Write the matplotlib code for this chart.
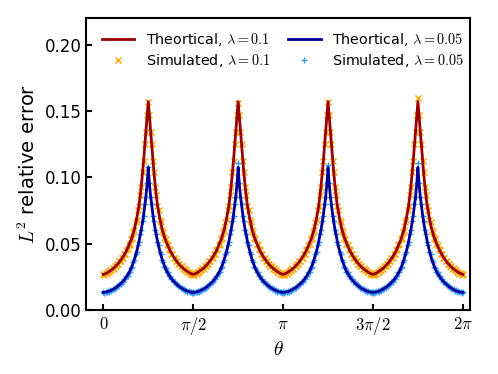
import numpy as np
import matplotlib
matplotlib.use('Agg')
import matplotlib.pyplot as plt

plt.rcParams['mathtext.fontset'] = 'cm'

# distance from a peak (peaks at pi/4, 3pi/4, 5pi/4, 7pi/4), 40 points from 0 to pi/4
n_half = 40
# theoretical error, from peak (d=0) to trough (d=pi/4)
theory_01 = [0.157, 0.146, 0.135, 0.124, 0.113, 0.103, 0.094, 0.086, 0.079, 0.074,
             0.069, 0.065, 0.061, 0.058, 0.055, 0.0527, 0.0505, 0.0485, 0.0465, 0.0445,
             0.0430, 0.0415, 0.0400, 0.0387, 0.0375, 0.0363, 0.0352, 0.0342, 0.0333, 0.0324,
             0.0316, 0.0309, 0.0302, 0.0296, 0.0290, 0.0284, 0.0279, 0.0275, 0.0271, 0.0269]
theory_005 = [0.1075, 0.095, 0.086, 0.079, 0.072, 0.066, 0.061, 0.0565, 0.052, 0.048,
              0.0445, 0.0413, 0.0383, 0.0357, 0.0333, 0.0312, 0.0293, 0.0277, 0.0262, 0.0249,
              0.0237, 0.0226, 0.0216, 0.0207, 0.0198, 0.0190, 0.0183, 0.0176, 0.0170, 0.0164,
              0.0159, 0.0154, 0.0150, 0.0146, 0.0142, 0.0139, 0.0137, 0.0135, 0.0134, 0.0133]
# simulated points (same grid), peak value of each of the four peaks
sim_01 = [0.157, 0.147, 0.134, 0.125, 0.112, 0.104, 0.093, 0.087, 0.078, 0.075,
          0.068, 0.066, 0.060, 0.059, 0.054, 0.0535, 0.0498, 0.0491, 0.0459, 0.0450,
          0.0425, 0.0420, 0.0395, 0.0391, 0.0371, 0.0367, 0.0348, 0.0346, 0.0329, 0.0328,
          0.0312, 0.0313, 0.0298, 0.0300, 0.0286, 0.0288, 0.0275, 0.0279, 0.0267, 0.0272]
sim_005 = [0.1075, 0.096, 0.085, 0.080, 0.071, 0.067, 0.0603, 0.0572, 0.0513, 0.0488,
           0.0439, 0.0420, 0.0377, 0.0363, 0.0327, 0.0318, 0.0287, 0.0283, 0.0256, 0.0255,
           0.0232, 0.0231, 0.0211, 0.0212, 0.0194, 0.0195, 0.0179, 0.0180, 0.0166, 0.0168,
           0.0156, 0.0157, 0.0147, 0.0149, 0.0139, 0.0142, 0.0134, 0.0137, 0.0131, 0.0135]
sim_peaks_01 = [0.157, 0.156, 0.157, 0.160]
sim_peaks_005 = [0.108, 0.111, 0.109, 0.111]

xtick_labels = [r'$0$', r'$\pi/2$', r'$\pi$', r'$3\pi/2$', r'$2\pi$']


def full_curve(half, peaks=None):
    # build the 4 periods from the half profile (symmetric around each peak)
    d = np.linspace(0, np.pi / 4, n_half)
    half = np.asarray(half)
    xs, ys = [], []
    for k in range(4):
        h = half.copy()
        if peaks is not None:
            h[0] = peaks[k]
        c = np.pi / 4 + k * np.pi / 2
        xs.append(np.concatenate([c - d[::-1], c + d[1:]]))
        ys.append(np.concatenate([h[::-1], h[1:]]))
    return np.concatenate(xs), np.concatenate(ys)


fig = plt.figure(figsize=(4.98, 3.74), dpi=100)
ax = fig.add_axes([0.173, 0.171, 0.771, 0.781])

x, y = full_curve(theory_01)
ax.plot(x, y, color='#990000', lw=2, label=r'Theortical, $\lambda=0.1$', zorder=3)
x, y = full_curve(sim_01, sim_peaks_01)
ax.plot(x, y, 'x', color='orange', ms=4, mew=1, label=r'Simulated, $\lambda=0.1$', zorder=2)
x, y = full_curve(theory_005)
ax.plot(x, y, color='#000099', lw=2, label=r'Theortical, $\lambda=0.05$', zorder=3)
x, y = full_curve(sim_005, sim_peaks_005)
ax.plot(x, y, '+', color='#3399ff', ms=4, mew=1, label=r'Simulated, $\lambda=0.05$', zorder=2)

ax.set_xlim(-0.3, 6.41)
ax.set_ylim(0, 0.22)
ax.set_xticks([0, np.pi / 2, np.pi, 3 * np.pi / 2, 2 * np.pi])
ax.set_xticklabels(xtick_labels)
ax.set_yticks([0, 0.05, 0.10, 0.15, 0.20])
ax.tick_params(direction='in', length=4, width=1.5, labelsize=12)
for s in ax.spines.values():
    s.set_linewidth(1.5)

ax.set_xlabel(r'$\theta$', fontsize=14, labelpad=2)
ax.set_ylabel(r'$L^2$ relative error', fontsize=14)
ax.legend(loc='upper right', bbox_to_anchor=(1.0, 0.975), ncol=2, frameon=False,
          fontsize=10.3, handlelength=2.3, columnspacing=1.2, borderaxespad=0,
          labelspacing=0.3)

fig.savefig('out.png', dpi=100)
